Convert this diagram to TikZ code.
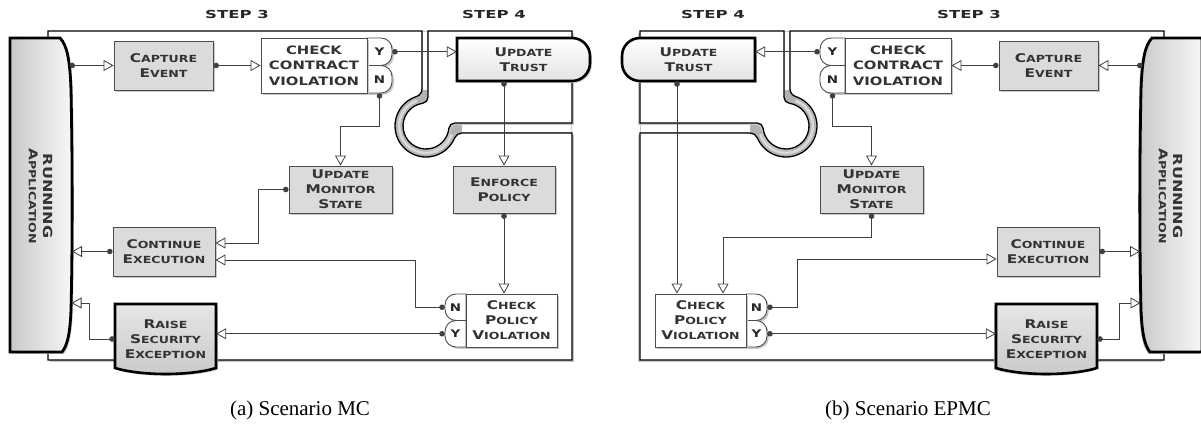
\documentclass[tikz,border=0pt]{standalone}
\usepackage{fontspec}
\setmainfont{Liberation Serif}
\newfontfamily\bxfont[FakeStretch=1.28]{DejaVu Sans}
\newfontfamily\stpfont[FakeStretch=1.5]{DejaVu Sans}
\usetikzlibrary{arrows.meta,shadows,calc}

\newcommand\Bg[1]{{\fontsize{12}{15}\selectfont #1}}

\newcommand\PathS[1]{\path[#1] (48,31) -- (422,31) -- (422,88.9) arc[start angle=0,end angle=71.8,radius=8] arc[start angle=252.1,end angle=22.6,radius=31] arc[start angle=202.6,end angle=270,radius=8] -- (572,133) -- (572,360) -- (48,360) -- cycle;}
\newcommand\PathF[1]{\path[#1] (428,31) -- (428,97.3) arc[start angle=0,end angle=82,radius=6] arc[start angle=262.1,end angle=5.9,radius=23] arc[start angle=185.9,end angle=270,radius=6] -- (572,123) -- (572,31) -- cycle;}
\newcommand\PathBand[1]{\path[#1,even odd rule] (422,31) -- (422,88.9) arc[start angle=0,end angle=71.8,radius=8] arc[start angle=252.1,end angle=22.6,radius=31] arc[start angle=202.6,end angle=270,radius=8] -- (572,133) -- (572,31) -- cycle (428,31) -- (428,97.3) arc[start angle=0,end angle=82,radius=6] arc[start angle=262.1,end angle=5.9,radius=23] arc[start angle=185.9,end angle=270,radius=6] -- (572,123) -- (572,31) -- cycle;}
\newcommand\PathTube[1]{\path[#1] (416.8,100.6) arc[start angle=250,end angle=18,radius=27];}
\newcommand\PathGaps[1]{\path[#1] (422.7,31.7) rectangle (427.3,90) (462,123.7) rectangle (571.3,132.3);}
\newcommand\PathApp[1]{\path[#1] (10,38) -- (60,38) .. controls (67,45) and (70,60) .. (71,90) .. controls (72.5,160) and (72.5,250) .. (71,310) .. controls (70,335) and (67,346) .. (62,352) -- (10,352) -- cycle;}
\newcommand\PathRaise[1]{\path[#1] (115,368) -- (115,304) -- (216,304) -- (216,368) .. controls (190,376) and (141,376) .. (115,368) -- cycle;}
% tab shapes from absolute corners: x0,y0,x1,y1,r,style
\newcommand\TabR[6]{\path[#6] (#1,#2) -- ({#3-#5},#2) arc[start angle=270,end angle=360,radius=#5] -- (#3,{#4-#5}) arc[start angle=0,end angle=90,radius=#5] -- (#1,#4) -- cycle;}
\newcommand\TabL[6]{\path[#6] (#3,#2) -- ({#1+#5},#2) arc[start angle=270,end angle=180,radius=#5] -- (#1,{#4-#5}) arc[start angle=180,end angle=90,radius=#5] -- (#3,#4) -- cycle;}

\begin{document}
\begin{tikzpicture}[x=1pt,y=-1pt,
  shd/.style={drop shadow={shadow xshift=#1, shadow yshift=-1.8pt, opacity=1, fill=black!22}},
  shd/.default=1.8pt,
  txt/.style={font=\bxfont\bfseries\fontsize{9.8}{15}\selectfont, align=center, text=black!80, inner sep=0pt},
  gbox/.style={txt, draw=black!70, line width=0.9pt, fill=gray!28, shd},
  wbox/.style={txt, draw=black!70, line width=0.9pt, fill=white, shd},
  bigtxt/.style={font=\bxfont\bfseries\fontsize{11.6}{15.5}\selectfont},
  tabtxt/.style={font=\bxfont\bfseries\fontsize{10.5}{10.5}\selectfont, text=black!85, inner sep=0pt},
  tabshape/.style={draw=black!70, line width=0.9pt, fill=white, shd},
  heavy/.style={draw=black, line width=2.6pt},
  trustfill/.style={top color=white, bottom color=gray!22},
  raisefill/.style={top color=gray!20, bottom color=gray!42},
  conn/.style={draw=black!75, line width=0.8pt, arrows={{Circle[length=5.5pt]}-{Triangle[open,length=10pt,width=11pt]}}},
  stepline/.style={draw=black, line width=1.3pt},
  steplbl/.style={font=\stpfont\bfseries\fontsize{11}{11}\selectfont, text=black!85},
  capt/.style={font=\fontsize{21}{21}\selectfont}]
\useasboundingbox (0,0) rectangle (1201,427);
\fill[white] (0,0) rectangle (1201,427);

% ---------- step regions ----------
\PathS{fill=white, shd}
\PathBand{fill=gray!60}
\PathTube{draw=gray!30, line width=2.6pt}
\PathGaps{fill=white}
\PathF{fill=white, shd}
\PathS{stepline}
\PathF{stepline}
\begin{scope}[xshift=1212pt, xscale=-1]
  \PathS{fill=white, shd=-1.8pt}
  \PathBand{fill=gray!60}
  \PathTube{draw=gray!30, line width=2.6pt}
  \PathGaps{fill=white}
  \PathF{fill=white, shd=-1.8pt}
  \PathS{stepline}
  \PathF{stepline}
\end{scope}

% ---------- special shapes ----------
\PathApp{draw=black, line width=2.8pt, left color=gray!42, right color=gray!6, shd}
\PathRaise{heavy, raisefill, shd}
\TabR{457}{38}{590}{81}{18}{heavy, trustfill, shd}
\TabR{367}{38}{392}{65.5}{11}{tabshape}
\TabR{367}{65.5}{392}{93}{11}{tabshape}
\TabL{445}{294}{466}{320.5}{11}{tabshape}
\TabL{445}{320.5}{466}{347}{11}{tabshape}
\begin{scope}[xshift=1212pt, xscale=-1]
  \PathApp{draw=black, line width=2.8pt, left color=gray!42, right color=gray!6, shd=-1.8pt}
  \PathRaise{heavy, raisefill, shd=-1.8pt}
\end{scope}
\TabL{622}{38}{755}{81}{18}{heavy, trustfill, shd}
\TabL{820}{38}{845}{65.5}{11}{tabshape}
\TabL{820}{65.5}{845}{93}{11}{tabshape}
\TabR{746}{294}{767}{320.5}{11}{tabshape}
\TabR{746}{320.5}{767}{347}{11}{tabshape}

% ---------- panel (a) nodes ----------
\node[txt, rotate=-90] (appA) at (41,196) {{\fontsize{12.5}{17}\selectfont RUNNING}\\{\Bg A}PPLICATION};
\node[gbox, minimum width=99pt, minimum height=49pt] (capA) at (163.5,65.5) {{\Bg C}APTURE\\{\Bg E}VENT};
\node[wbox, bigtxt, minimum width=106pt, minimum height=55pt] (ccvA) at (314,65.5) {CHECK\\CONTRACT\\VIOLATION};
\node[tabtxt, minimum width=25pt, minimum height=27.5pt] (yA) at (379.5,51.75) {Y};
\node[tabtxt, minimum width=25pt, minimum height=27.5pt] (nA) at (379.5,79.25) {N};
\node[txt, minimum width=133pt, minimum height=43pt] (utA) at (523.5,59.5) {{\Bg U}PDATE\\{\Bg T}RUST};
\node[gbox, minimum width=103pt, minimum height=47pt] (umsA) at (340.5,189.5) {{\Bg U}PDATE\\{\Bg M}ONITOR\\{\Bg S}TATE};
\node[gbox, minimum width=102pt, minimum height=47pt] (epA) at (504,189.5) {{\Bg E}NFORCE\\{\Bg P}OLICY};
\node[gbox, minimum width=102pt, minimum height=49pt] (ceA) at (164,251.5) {{\Bg C}ONTINUE\\{\Bg E}XECUTION};
\node[txt, minimum width=101pt, minimum height=70pt] (raiseA) at (165.5,339) {{\Bg R}AISE\\{\Bg S}ECURITY\\{\Bg E}XCEPTION};
\node[wbox, minimum width=91pt, minimum height=53pt] (cpvA) at (511.5,320.5) {{\Bg C}HECK\\{\Bg P}OLICY\\{\Bg V}IOLATION};
\node[tabtxt, minimum width=21pt, minimum height=26.5pt] (npA) at (455.5,307.25) {N};
\node[tabtxt, minimum width=21pt, minimum height=26.5pt] (ypA) at (455.5,333.75) {Y};
\coordinate (appA-o) at (69.5,65.5);
\coordinate (appA-i1) at (72,251.5);
\coordinate (appA-i2) at (71.5,303);

% ---------- panel (b) nodes ----------
\node[txt, rotate=-90] (appB) at (1171,196) {{\fontsize{12.5}{17}\selectfont RUNNING}\\{\Bg A}PPLICATION};
\node[gbox, minimum width=99pt, minimum height=49pt] (capB) at (1048.5,65.5) {{\Bg C}APTURE\\{\Bg E}VENT};
\node[wbox, bigtxt, minimum width=106pt, minimum height=55pt] (ccvB) at (898,65.5) {CHECK\\CONTRACT\\VIOLATION};
\node[tabtxt, minimum width=25pt, minimum height=27.5pt] (yB) at (832.5,51.75) {Y};
\node[tabtxt, minimum width=25pt, minimum height=27.5pt] (nB) at (832.5,79.25) {N};
\node[txt, minimum width=133pt, minimum height=43pt] (utB) at (688.5,59.5) {{\Bg U}PDATE\\{\Bg T}RUST};
\node[gbox, minimum width=103pt, minimum height=47pt] (umsB) at (871.5,189.5) {{\Bg U}PDATE\\{\Bg M}ONITOR\\{\Bg S}TATE};
\node[gbox, minimum width=102pt, minimum height=49pt] (ceB) at (1048,251.5) {{\Bg C}ONTINUE\\{\Bg E}XECUTION};
\node[txt, minimum width=101pt, minimum height=70pt] (raiseB) at (1046.5,339) {{\Bg R}AISE\\{\Bg S}ECURITY\\{\Bg E}XCEPTION};
\node[wbox, minimum width=91pt, minimum height=53pt] (cpvB) at (700.5,320.5) {{\Bg C}HECK\\{\Bg P}OLICY\\{\Bg V}IOLATION};
\node[tabtxt, minimum width=21pt, minimum height=26.5pt] (npB) at (756.5,307.25) {N};
\node[tabtxt, minimum width=21pt, minimum height=26.5pt] (ypB) at (756.5,333.75) {Y};
\coordinate (appB-o) at (1142.5,65.5);
\coordinate (appB-i1) at (1140,251.5);
\coordinate (appB-i2) at (1140.5,303);

% ---------- connectors (a) ----------
\draw[conn] (appA-o) -- (capA.west);
\draw[conn] (capA.east) -- (ccvA.west);
\draw[conn] (yA.east) -- (yA.east -| utA.west);
\draw[conn] (nA.south) -- ++(0,33) -| (umsA.north);
\draw[conn] (utA.south -| epA.north) -- (epA.north);
\draw[conn] (epA.south) -- (epA.south |- cpvA.north);
\draw[conn] (umsA.west) -- ++(-30,0) |- ([yshift=8.5pt]ceA.east);
\draw[conn] (npA.west) -- ++(-29,0) |- ([yshift=-8.5pt]ceA.east);
\draw[conn] (ypA.west) -- (ypA.west -| raiseA.east);
\draw[conn] (ceA.west) -- (appA-i1);
\draw[conn] (raiseA.west) -- ++(-25,0) |- (appA-i2);

% ---------- connectors (b) ----------
\draw[conn] (appB-o) -- (capB.east);
\draw[conn] (capB.west) -- (ccvB.east);
\draw[conn] (yB.west) -- (yB.west -| utB.east);
\draw[conn] (nB.south) -- ++(0,33) -| (umsB.north);
\draw[conn] ([xshift=-11.5pt]utB.south) -- ([xshift=-11.5pt]utB.south |- cpvB.north);
\draw[conn] (umsB.south) -- ++(0,24) -| ([xshift=22.5pt]cpvB.north);
\draw[conn] (npB.east) -- ++(30,0) |- ([yshift=-7.5pt]ceB.west);
\draw[conn] (ypB.east) -- (ypB.east -| raiseB.west);
\draw[conn] (ceB.east) -- (appB-i1);
\draw[conn] (raiseB.east) -- ++(22,0) |- (appB-i2);

% ---------- labels ----------
\node[steplbl] (s3a) at (237,15) {STEP 3};
\node[steplbl] (s4a) at (494,15) {STEP 4};
\node[steplbl] (s4b) at (713,15) {STEP 4};
\node[steplbl] (s3b) at (969,15) {STEP 3};
\node[capt] (capa) at (300,410) {(a) Scenario MC};
\node[capt] (capb) at (908,410) {(b) Scenario EPMC};
\end{tikzpicture}
\end{document}
